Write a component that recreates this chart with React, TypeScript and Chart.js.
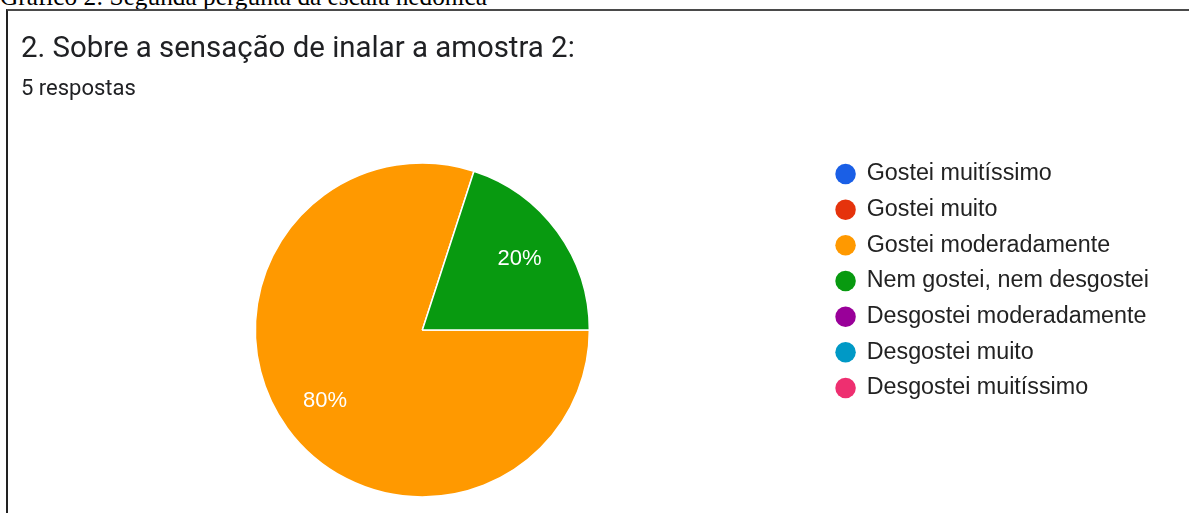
import React, { useEffect, useRef } from 'react';
import { Chart, registerables } from 'chart.js';

Chart.register(...registerables);

const CAPTION = 'Gráfico 2: Segunda pergunta da escala hedônica';
const TITLE = '2. Sobre a sensação de inalar a amostra 2:';
const SUBTITLE = '5 respostas';

const categories = [
  'Gostei muitíssimo',
  'Gostei muito',
  'Gostei moderadamente',
  'Nem gostei, nem desgostei',
  'Desgostei moderadamente',
  'Desgostei muito',
  'Desgostei muitíssimo',
];
const responses = [0, 0, 4, 1, 0, 0, 0];
const colors = ['#1a5fe6', '#e5330c', '#ff9900', '#089a10', '#990099', '#0099c6', '#ee2f70'];

const pctLabels = {
  id: 'pctLabels',
  afterDatasetsDraw(chart: any) {
    const ctx = chart.ctx;
    const meta = chart.getDatasetMeta(0);
    const data = chart.data.datasets[0].data as number[];
    const total = data.reduce((a, b) => a + b, 0);
    ctx.save();
    ctx.font = '22px "Liberation Sans", Arial, sans-serif';
    ctx.fillStyle = '#ffffff';
    ctx.textAlign = 'center';
    ctx.textBaseline = 'middle';
    meta.data.forEach((arc: any, i: number) => {
      const v = data[i];
      if (!v) return;
      const p = arc.getProps(['x', 'y', 'startAngle', 'endAngle', 'outerRadius'], true);
      const mid = (p.startAngle + p.endAngle) / 2;
      const r = p.outerRadius * 0.72;
      ctx.fillText(Math.round((v / total) * 100) + '%', p.x + Math.cos(mid) * r, p.y + Math.sin(mid) * r);
    });
    ctx.restore();
  },
};

export default function App() {
  const canvasRef = useRef<HTMLCanvasElement | null>(null);

  useEffect(() => {
    if (!canvasRef.current) return;
    const chart = new Chart(canvasRef.current, {
      type: 'doughnut',
      data: {
        labels: categories,
        datasets: [
          {
            data: responses,
            backgroundColor: colors,
            borderColor: '#ffffff',
            borderWidth: 1.5,
            radius: 167,
            rotation: 90,
          } as any,
        ],
      },
      options: {
        responsive: false,
        animation: false,
        devicePixelRatio: 1,
        cutout: 0,
        rotation: 90,
        layout: { padding: { left: 13, right: 30, top: 0, bottom: 0 } },
        plugins: {
          title: {
            display: true,
            text: TITLE,
            align: 'start',
            color: '#202124',
            font: { family: 'Roboto', size: 29.4, weight: 'normal', lineHeight: 1.2 },
            padding: { top: 21.4, bottom: 0 },
          },
          subtitle: {
            display: true,
            text: SUBTITLE,
            align: 'start',
            color: '#202124',
            font: { family: 'Roboto', size: 22, weight: 'normal', lineHeight: 1.2 },
            padding: { top: 8.6, bottom: 6.3 },
          },
          legend: {
            position: 'right',
            align: 'center',
            labels: {
              usePointStyle: true,
              pointStyle: 'circle',
              boxWidth: 19,
              boxHeight: 14.5,
              padding: 12.37,
              color: '#222222',
              font: { family: '"Liberation Sans", Arial, sans-serif', size: 23.3 },
              generateLabels: (c: any) => {
                const base = (Chart as any).overrides.doughnut.plugins.legend.labels.generateLabels(c);
                return base.map((l: any) => ({ ...l, lineWidth: 0, strokeStyle: 'rgba(0,0,0,0)' }));
              },
            },
          },
          tooltip: { enabled: false },
        },
      } as any,
      plugins: [pctLabels],
    });
    return () => chart.destroy();
  }, []);

  return (
    <div
      style={{
        position: 'absolute',
        left: 0,
        top: 0,
        width: 1189,
        height: 513,
        overflow: 'hidden',
        background: '#ffffff',
      }}
    >
      <div
        style={{
          position: 'absolute',
          left: 0,
          top: -16,
          fontFamily: '"Liberation Serif", "Times New Roman", serif',
          fontSize: 25.3,
          lineHeight: '25px',
          color: '#000',
          whiteSpace: 'nowrap',
        }}
      >
        {CAPTION}
      </div>
      <div
        style={{
          position: 'absolute',
          left: 6,
          top: 9,
          width: 1200,
          height: 600,
          borderTop: '2px solid #4a4a4a',
          borderLeft: '2px solid #222222',
        }}
      >
        <canvas ref={canvasRef} width={1181} height={540} style={{ display: 'block' }} />
      </div>
    </div>
  );
}
